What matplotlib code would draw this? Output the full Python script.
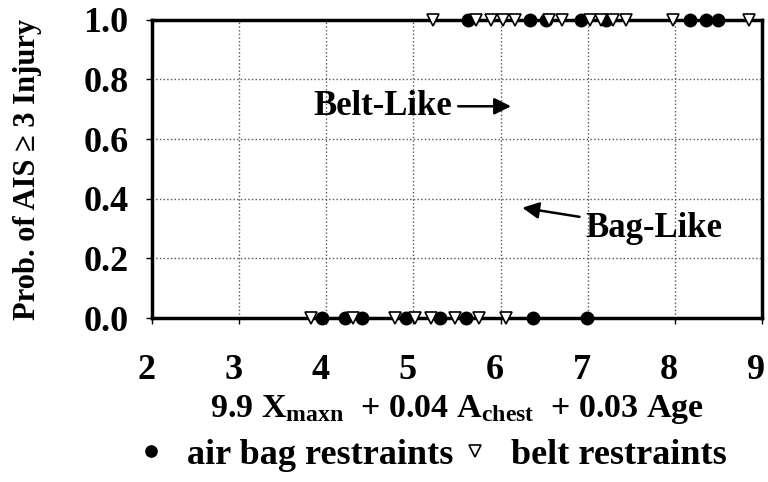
import matplotlib
matplotlib.use("Agg")
import matplotlib.pyplot as plt
import matplotlib.transforms as mtransforms

plt.rcParams['font.family'] = ['Liberation Serif', 'DejaVu Serif']
plt.rcParams['font.weight'] = 'bold'
plt.rcParams['axes.labelweight'] = 'bold'
plt.rcParams['mathtext.fontset'] = 'custom'
plt.rcParams['mathtext.rm'] = 'Liberation Serif:bold'
plt.rcParams['mathtext.it'] = 'Liberation Serif:bold'
plt.rcParams['mathtext.bf'] = 'Liberation Serif:bold'

# injury outcomes (0 = no AIS>=3, 1 = AIS>=3) vs combined predictor
bag_x0 = [3.95, 4.22, 4.41, 4.91, 5.31, 5.60, 6.37, 6.99]
bag_x1 = [5.63, 6.34, 6.52, 6.92, 7.21, 8.18, 8.36, 8.50]
belt_x0 = [3.82, 4.31, 4.79, 5.02, 5.20, 5.48, 5.75, 6.06]
belt_x1 = [5.22, 5.72, 5.89, 6.03, 6.17, 6.56, 6.71, 7.03, 7.15,
           7.29, 7.44, 7.98, 8.85]

xticks = [2, 3, 4, 5, 6, 7, 8, 9]
yticks = [0.0, 0.2, 0.4, 0.6, 0.8, 1.0]

fig = plt.figure(figsize=(7.68, 4.82), dpi=100)
ax = fig.add_axes([0.198, 0.340, 0.794, 0.619])

ax.plot(bag_x0, [0] * len(bag_x0), 'o', color='black', ms=9,
        clip_on=False, zorder=5, label='air bag restraints')
ax.plot(bag_x1, [1] * len(bag_x1), 'o', color='black', ms=9,
        clip_on=False, zorder=5)
ax.plot(belt_x0, [0] * len(belt_x0), 'v', mfc='white', mec='black', mew=1.2,
        ms=9, clip_on=False, zorder=6, label='belt restraints')
ax.plot(belt_x1, [1] * len(belt_x1), 'v', mfc='white', mec='black', mew=1.2,
        ms=9, clip_on=False, zorder=6)

ax.set_xlim(2, 9)
ax.set_ylim(0, 1)
ax.set_xticks(xticks)
ax.set_yticks(yticks)
ax.set_yticklabels(['%.1f' % v for v in yticks])
ax.tick_params(labelsize=26, length=4, width=1, direction='out')
ax.tick_params(axis='x', pad=22)
ax.tick_params(axis='y', pad=13)
# x tick labels sit a little left of their gridlines
shift = mtransforms.ScaledTranslation(-6 / 100, 0, fig.dpi_scale_trans)
for lbl in ax.get_xticklabels():
    lbl.set_transform(lbl.get_transform() + shift)
ax.grid(True, linestyle=':', color='#555555', linewidth=1)
for s in ax.spines.values():
    s.set_linewidth(2.5)

ax.set_xlabel(r'9.9 X$_{\mathrm{maxn}}$  + 0.04 A$_{\mathrm{chest}}$  + 0.03 Age',
              fontsize=24.5, labelpad=4)
ax.set_ylabel('Prob. of AIS \u2265 3 Injury', fontsize=22, labelpad=30)

ax.annotate('Belt-Like', xy=(6.12, 0.71), xytext=(5.45, 0.71),
            fontsize=25, ha='right', va='center',
            arrowprops=dict(arrowstyle='-|>', color='black', lw=1.8,
                            shrinkA=2, shrinkB=0))
ax.annotate('Bag-Like', xy=(6.25, 0.37), xytext=(6.97, 0.30),
            fontsize=25, ha='left', va='center',
            arrowprops=dict(arrowstyle='-|>', color='black', lw=1.8,
                            shrinkA=2, shrinkB=0))

fig.legend(loc='center', bbox_to_anchor=(0.56, 0.055), ncol=2,
           frameon=False, fontsize=26, handletextpad=0.5, columnspacing=0.1,
           handlelength=1.0, markerscale=0.9)

fig.savefig('out.png', dpi=100)
